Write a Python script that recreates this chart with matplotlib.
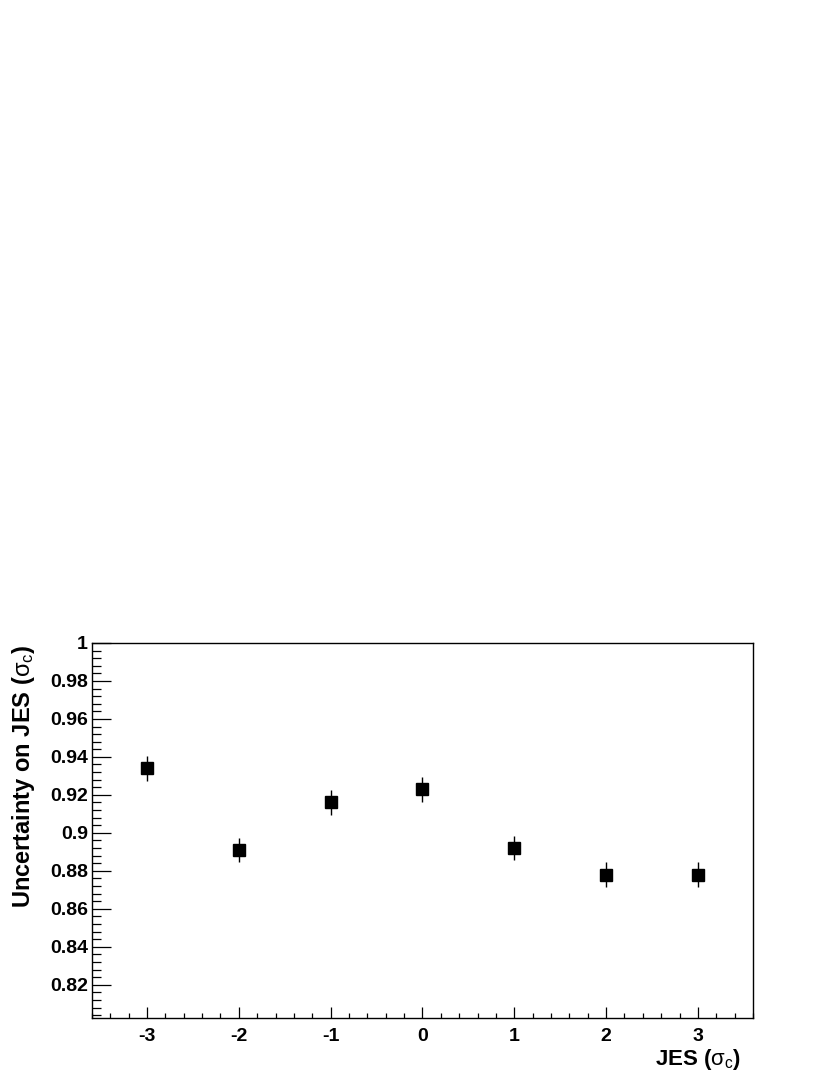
import matplotlib
matplotlib.use("Agg")
import matplotlib.pyplot as plt
import numpy as np
from matplotlib.ticker import MultipleLocator, FuncFormatter

plt.rcParams["font.family"] = ["Liberation Sans", "DejaVu Sans"]
plt.rcParams["mathtext.fontset"] = "custom"
plt.rcParams["mathtext.rm"] = "Liberation Sans"
plt.rcParams["mathtext.bf"] = "Liberation Sans:bold"

# data
jes = [-3, -2, -1, 0, 1, 2, 3]
unc = [0.934, 0.891, 0.916, 0.923, 0.892, 0.878, 0.878]
unc_err = [0.0067, 0.0064, 0.0065, 0.0065, 0.0064, 0.0064, 0.0064]

fig = plt.figure(figsize=(8.3, 10.75), dpi=100)
ax = fig.add_axes([0.1108, 0.0530, 0.7964, 0.3489])

ax.errorbar(jes, unc, yerr=unc_err, fmt='s', color='k', ms=8.8,
            elinewidth=1.0, capsize=0, mec='k', mfc='k')

ax.set_xlim(-3.6, 3.6)
ax.set_ylim(0.8025, 1.0)

ax.xaxis.set_major_locator(MultipleLocator(1))
ax.xaxis.set_minor_locator(MultipleLocator(0.2))
ax.yaxis.set_major_locator(MultipleLocator(0.02))
ax.yaxis.set_minor_locator(MultipleLocator(0.004))
ax.yaxis.set_major_formatter(FuncFormatter(lambda v, p: "%g" % round(v, 3)))
ax.xaxis.set_major_formatter(FuncFormatter(lambda v, p: "%d" % round(v)))

ax.tick_params(axis='both', which='both', direction='in', top=False, right=False,
               labelsize=14, width=0.9)
ax.tick_params(axis='y', which='major', length=13.5, pad=3)
ax.tick_params(axis='y', which='minor', length=6.8)
ax.tick_params(axis='x', which='major', length=8, pad=7)
ax.tick_params(axis='x', which='minor', length=3.8)
for lab in ax.get_xticklabels() + ax.get_yticklabels():
    lab.set_fontweight('bold')

for s in ax.spines.values():
    s.set_linewidth(1.0)

ax.set_xlabel(r"JES ($\mathrm{\sigma_c}$)", fontsize=16, fontweight='bold',
              ha='right', va='top')
ax.xaxis.set_label_coords(0.982, -0.076)
ax.set_ylabel(r"Uncertainty on JES ($\mathrm{\sigma_c}$)", fontsize=17,
              fontweight='bold', ha='right', va='bottom')
ax.yaxis.set_label_coords(-0.083, 0.995)

fig.savefig("out.png", dpi=100, facecolor='white')
